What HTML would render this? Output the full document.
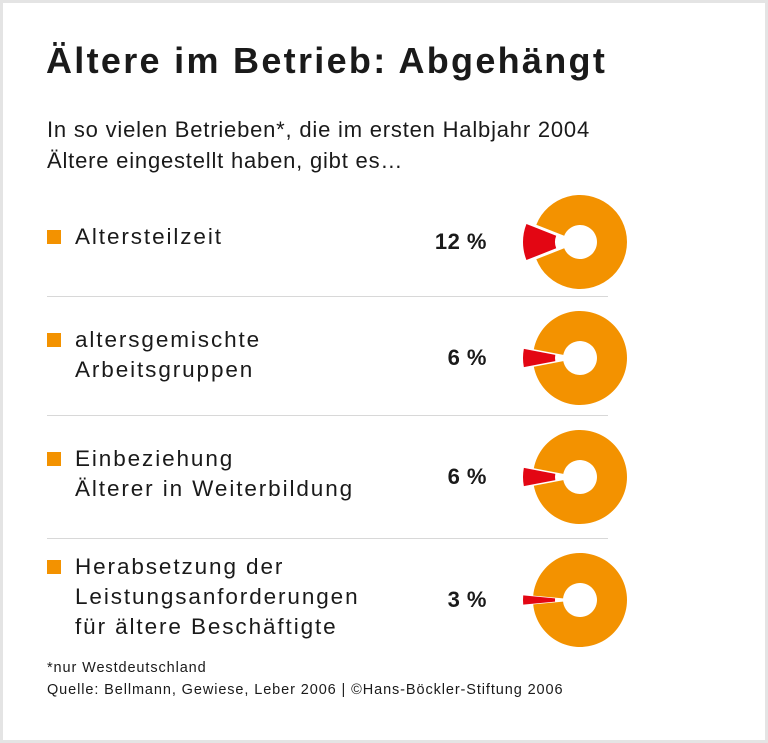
<!DOCTYPE html>
<html><head><meta charset="utf-8"><style>
body{margin:0;width:768px;height:743px;background:#fff;font-family:"Liberation Sans",sans-serif;color:#1a1a1a;overflow:hidden}
#frame{position:absolute;left:0;top:0;width:762px;height:737px;border:3px solid #e4e4e4;}
.t{position:absolute;white-space:nowrap}
.sq{position:absolute;width:14px;height:14px;background:#f39200}
.sep{position:absolute;left:47px;width:561px;height:1px;background:#d8d8d8}
.lab{font-size:22.5px;line-height:30px;left:75px;letter-spacing:1.9px}
.pct{font-size:22px;font-weight:bold;right:281px;letter-spacing:0.5px}
</style></head><body>
<div id="frame"></div>
<div class="t" style="left:46px;top:40px;font-size:36px;font-weight:bold;letter-spacing:2.3px">Ältere im Betrieb: Abgehängt</div>
<div class="t" style="left:47px;top:114px;font-size:22px;line-height:31px;letter-spacing:0.8px">In so vielen Betrieben*, die im ersten Halbjahr 2004<br>Ältere eingestellt haben, gibt es…</div>
<div id="rows"></div>
<svg id="chart" width="768" height="743" style="position:absolute;left:0;top:0"></svg>
<div class="t" style="left:47px;top:660px;font-size:14.5px;letter-spacing:0.9px">*nur Westdeutschland</div>
<div class="t" style="left:47px;top:682px;font-size:14.5px;letter-spacing:0.9px">Quelle: Bellmann, Gewiese, Leber 2006 | ©Hans-Böckler-Stiftung 2006</div>
<script>
const categories=[["Altersteilzeit"],["altersgemischte","Arbeitsgruppen"],["Einbeziehung","Älterer in Weiterbildung"],["Herabsetzung der","Leistungsanforderungen","für ältere Beschäftigte"]];
const values=[12,6,6,3];
const centersY=[242,358,477,600];
const labelTops=[222,325,444,552];
const rows=document.getElementById('rows');
const svg=document.getElementById('chart');
const NS='http://www.w3.org/2000/svg';
const cx=580,R=47,r=17,off=8;
function pt(a,rad,x,y){return [x+rad*Math.cos(a),y+rad*Math.sin(a)];}
function arc(a0,a1,x,y,RR){const l=(a1-a0)>Math.PI?1:0;const p1=pt(a0,RR,x,y),p2=pt(a1,RR,x,y),p3=pt(a1,r,x,y),p4=pt(a0,r,x,y);
return `M${p1}L${p1}A${RR},${RR} 0 ${l} 1 ${p2}L${p3}A${r},${r} 0 ${l} 0 ${p4}Z`;}
categories.forEach((c,i)=>{
 const top=labelTops[i];
 const sq=document.createElement('div');sq.className='sq';sq.style.left='47px';sq.style.top=(top+8)+'px';
 
 
 rows.appendChild(sq);
 const lb=document.createElement('div');lb.className='t lab';lb.style.top=top+'px';lb.innerHTML=c.join('<br>');
 
 
 rows.appendChild(lb);
 const p=document.createElement('div');p.className='t pct';p.style.top=(centersY[i]-13)+'px';p.textContent=values[i]+' %';
 
 
 rows.appendChild(p);
 if(i>0){const s=document.createElement('div');s.className='sep';s.style.top=(centersY[i]-62)+'px';
 
 
 rows.appendChild(s);}
 const cy=centersY[i];const half=values[i]/100*Math.PI;
 const o=document.createElementNS(NS,'path');o.setAttribute('d',arc(Math.PI+half,3*Math.PI-half,cx,cy,R));o.setAttribute('fill','#f39200');
 
 
 svg.appendChild(o);
 const rd=document.createElementNS(NS,'path');rd.setAttribute('d',arc(Math.PI-half,Math.PI+half,cx-off,cy,R+2));rd.setAttribute('fill','#e30613');
 
 
 svg.appendChild(rd);
});
</script>
</body></html>
